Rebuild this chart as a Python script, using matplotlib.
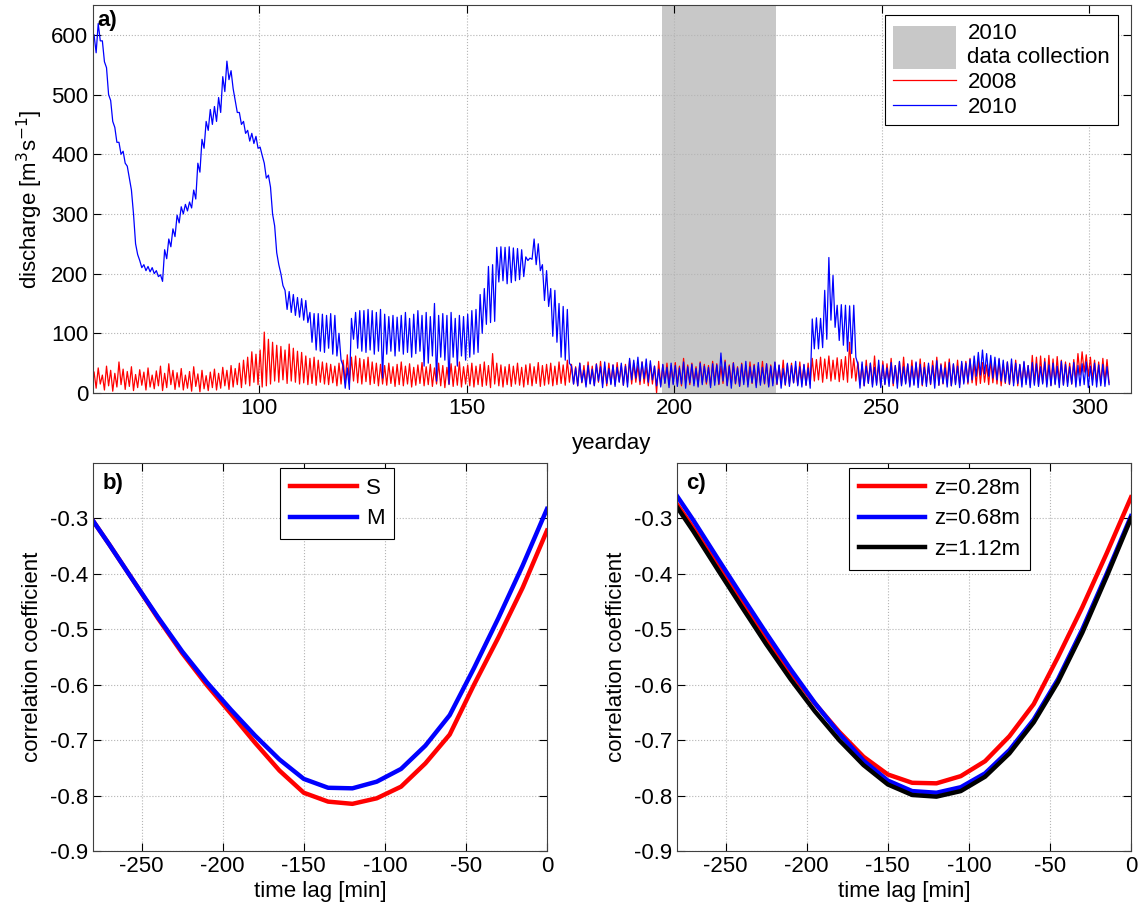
import numpy as np
import matplotlib.pyplot as plt
from matplotlib.patches import Rectangle
from matplotlib.legend_handler import HandlerPatch

plt.rcParams['font.family'] = ['Liberation Sans', 'DejaVu Sans']
plt.rcParams['axes.unicode_minus'] = False

# ---- panel a: daily high / low discharge (yearday 60..304)
days = np.arange(60, 305)

q2010_hi = [600, 619, 590, 545, 490, 445, 420, 405, 380, 340,
            250, 222, 215, 212, 210, 205, 198, 240, 258, 275,
            298, 312, 316, 320, 340, 385, 425, 455, 475, 480,
            495, 530, 556, 540, 490, 470, 455, 440, 435, 430,
            412, 385, 365, 300, 235, 200, 172, 170, 165, 160,
            158, 155, 135, 133, 133, 132, 130, 133, 130, 100,
            45, 42, 125, 135, 138, 138, 140, 138, 135, 140,
            132, 128, 130, 127, 130, 135, 125, 132, 138, 130,
            135, 128, 150, 130, 133, 130, 135, 125, 130, 128,
            132, 138, 140, 165, 175, 212, 215, 244, 245, 244,
            245, 243, 242, 240, 228, 226, 258, 250, 215, 205,
            175, 172, 150, 145, 140, 45, 42, 50, 38, 46,
            40, 48, 44, 52, 41, 47, 43, 50, 45, 58,
            55, 60, 52, 57, 54, 45, 40, 48, 43, 50,
            46, 42, 52, 44, 48, 41, 50, 45, 43, 49,
            47, 67, 52, 45, 50, 42, 48, 53, 44, 46,
            51, 43, 49, 45, 52, 47, 41, 50, 46, 53,
            44, 48, 42, 124, 126, 125, 172, 227, 197, 147,
            148, 147, 146, 147, 48, 52, 45, 50, 43, 55,
            47, 42, 51, 46, 53, 44, 49, 45, 52, 48,
            43, 50, 46, 54, 47, 42, 51, 49, 45, 53,
            50, 56, 62, 68, 72, 66, 63, 60, 58, 55,
            52, 57, 50, 48, 53, 46, 51, 49, 44, 52,
            47, 50, 45, 53, 48, 44, 51, 46, 49, 52,
            45, 50, 47, 48, 44]
q2010_lo = [570, 590, 555, 500, 455, 420, 400, 385, 360, 300,
            232, 210, 205, 203, 200, 195, 187, 225, 245, 262,
            285, 300, 305, 310, 325, 370, 410, 440, 450, 455,
            470, 505, 525, 510, 470, 450, 435, 422, 418, 410,
            398, 360, 345, 280, 215, 180, 140, 135, 130, 127,
            122, 118, 85, 72, 70, 68, 75, 65, 62, 55,
            8, 6, 90, 75, 70, 68, 72, 65, 70, 25,
            65, 70, 62, 70, 65, 68, 60, 66, 70, 45,
            50, 62, 20, 60, 55, 15, 60, 45, 62, 55,
            60, 65, 68, 100, 115, 118, 120, 186, 188, 183,
            185, 188, 190, 195, 222, 224, 215, 205, 155, 145,
            95, 85, 60, 55, 50, 15, 12, 18, 10, 15,
            12, 20, 9, 16, 14, 11, 18, 13, 10, 22,
            25, 20, 24, 18, 22, 12, 10, 16, 9, 14,
            11, 15, 8, 17, 12, 10, 14, 18, 9, 13,
            15, 20, 12, 8, 16, 11, 14, 10, 17, 9,
            13, 16, 10, 12, 15, 8, 14, 11, 17, 12,
            10, 13, 8, 74, 74, 76, 90, 122, 110, 88,
            80, 70, 66, 60, 8, 12, 16, 10, 13, 9,
            14, 11, 16, 8, 12, 15, 10, 13, 9, 14,
            11, 15, 8, 13, 16, 10, 12, 14, 9, 15,
            18, 22, 28, 30, 32, 28, 25, 22, 20, 18,
            15, 12, 16, 10, 14, 9, 13, 11, 15, 10,
            12, 14, 9, 13, 11, 15, 10, 12, 14, 9,
            13, 10, 12, 11, 14]

q2008_hi = [35, 42, 30, 45, 38, 33, 52, 40, 36, 44,
            31, 39, 35, 42, 30, 37, 45, 33, 49, 38,
            34, 41, 30, 36, 44, 32, 38, 29, 35, 40,
            33, 43, 38, 46, 41, 50, 55, 60, 69, 65,
            72, 102, 90, 85, 80, 78, 72, 82, 75, 70,
            68, 62, 58, 60, 55, 52, 50, 48, 45, 50,
            55, 64, 60, 62, 58, 56, 60, 52, 50, 48,
            46, 50, 44, 48, 52, 45, 49, 43, 47, 51,
            44, 48, 42, 50, 46, 43, 49, 45, 52, 44,
            47, 50, 45, 48, 52, 46, 66, 50, 47, 44,
            48, 45, 50, 43, 47, 49, 44, 51, 46, 48,
            50, 45, 52, 47, 55, 48, 44, 50, 46, 52,
            45, 49, 53, 44, 50, 47, 51, 46, 48, 55,
            50, 46, 52, 44, 49, 45, 53, 47, 50, 46,
            51, 45, 58, 47, 50, 44, 52, 48, 46, 53,
            49, 45, 55, 47, 51, 44, 50, 46, 52, 48,
            45, 53, 49, 47, 51, 46, 55, 48, 50, 44,
            52, 47, 50, 58, 56, 60, 57, 62, 55, 59,
            56, 61, 85, 58, 52, 48, 55, 50, 62, 47,
            53, 49, 58, 46, 52, 60, 48, 55, 50, 57,
            51, 46, 54, 60, 49, 52, 57, 48, 55, 50,
            53, 58, 49, 55, 51, 47, 54, 50, 56, 48,
            52, 49, 55, 47, 51, 46, 63, 60, 62, 58,
            63, 57, 61, 55, 52, 50, 56, 66, 69, 64,
            60, 55, 52, 58, 56]
q2008_lo = [8, 15, 5, 12, 3, 10, 14, 6, 11, 4,
            9, 13, 5, 10, 7, 12, 4, 9, 14, 6,
            10, 5, 8, 3, 11, 2, 7, 4, 9, 5,
            8, 12, 6, 10, 14, 9, 15, 12, 18, 14,
            10, 12, 15, 20, 18, 22, 16, 20, 18, 15,
            17, 14, 16, 13, 18, 15, 14, 17, 12, 15,
            18, 16, 20, 17, 15, 19, 14, 16, 12, 15,
            13, 16, 11, 14, 12, 15, 10, 13, 16, 12,
            14, 11, 15, 12, 9, 14, 11, 13, 10, 15,
            12, 10, 14, 11, 13, 9, 15, 12, 10, 14,
            11, 15, 13, 10, 14, 12, 16, 11, 13, 15,
            12, 14, 16, 13, 18, 15, 12, 17, 14, 16,
            13, 18, 15, 12, 16, 14, 19, 13, 17, 15,
            18, 14, 16, 12, 15, 0, 13, 17, 14, 16,
            15, 12, 18, 14, 16, 13, 17, 15, 12, 18,
            14, 16, 13, 17, 15, 12, 18, 14, 16, 13,
            17, 15, 12, 16, 14, 18, 13, 15, 17, 14,
            16, 13, 15, 20, 22, 18, 24, 20, 23, 19,
            22, 18, 25, 20, 15, 12, 17, 14, 16, 13,
            15, 18, 12, 16, 14, 17, 13, 15, 18, 12,
            16, 14, 18, 13, 15, 17, 12, 16, 14, 18,
            15, 17, 13, 16, 18, 14, 17, 15, 12, 16,
            14, 17, 12, 15, 18, 13, 16, 14, 17, 15,
            13, 16, 18, 14, 17, 15, 20, 30, 35, 28,
            22, 18, 16, 20, 17]

collection_start, collection_end = 197, 224.5

# ---- panels b and c: lagged correlation
lag = np.arange(-285, 1, 15)
corr_S = [-0.283, -0.347, -0.413, -0.480, -0.543, -0.600, -0.652, -0.705, -0.755, -0.795,
          -0.811, -0.815, -0.805, -0.784, -0.742, -0.690, -0.600, -0.515, -0.425, -0.322]
corr_M = [-0.283, -0.347, -0.413, -0.478, -0.540, -0.595, -0.645, -0.692, -0.735, -0.770,
          -0.786, -0.787, -0.775, -0.752, -0.710, -0.655, -0.570, -0.480, -0.385, -0.283]
corr_z028 = [-0.253, -0.317, -0.385, -0.452, -0.517, -0.578, -0.634, -0.685, -0.730, -0.762,
             -0.777, -0.778, -0.765, -0.738, -0.693, -0.635, -0.550, -0.460, -0.363, -0.262]
corr_z068 = [-0.238, -0.303, -0.372, -0.440, -0.507, -0.572, -0.633, -0.688, -0.737, -0.773,
             -0.792, -0.795, -0.785, -0.760, -0.718, -0.663, -0.590, -0.500, -0.400, -0.296]
corr_z112 = [-0.258, -0.323, -0.392, -0.460, -0.527, -0.590, -0.648, -0.700, -0.745, -0.780,
             -0.799, -0.802, -0.792, -0.766, -0.724, -0.668, -0.595, -0.506, -0.405, -0.300]

FS = 16


def zigzag(d, hi, lo):
    x = np.column_stack([d + 0.25, d + 0.75]).ravel()
    y = np.column_stack([hi, lo]).ravel()
    return x, y


def style(ax):
    ax.grid(True, ls=':', color='#b4b4b4', lw=0.8)
    ax.tick_params(direction='in', top=True, right=True, labelsize=FS, length=6)
    for s in ax.spines.values():
        s.set_color('#404040')


class BigPatch(HandlerPatch):
    def create_artists(self, legend, orig_handle, xdescent, ydescent, width, height, fontsize, trans):
        p = Rectangle((-xdescent, -ydescent - 0.68 * fontsize), width, 1.9 * fontsize,
                      facecolor=orig_handle.get_facecolor(), edgecolor='none', transform=trans)
        return [p]


fig = plt.figure(figsize=(11.4, 9.15), dpi=100)
ax_a = fig.add_axes([0.0816, 0.5705, 0.9104, 0.424])
ax_b = fig.add_axes([0.0816, 0.070, 0.3982, 0.424])
ax_c = fig.add_axes([0.5939, 0.070, 0.3982, 0.424])

span = ax_a.axvspan(collection_start, collection_end, color='#c8c8c8', lw=0, zorder=0.5,
                    label='2010\ndata collection')
x8, y8 = zigzag(days, q2008_hi, q2008_lo)
x10, y10 = zigzag(days, q2010_hi, q2010_lo)
ax_a.plot(x8, y8, color='red', lw=0.9, label='2008')
ax_a.plot(x10, y10, color='blue', lw=0.9, label='2010')
ax_a.set_xlim(60, 310)
ax_a.set_ylim(0, 650)
ax_a.set_xticks([100, 150, 200, 250, 300])
ax_a.set_yticks(range(0, 700, 100))
ax_a.set_xlabel('yearday', fontsize=FS, labelpad=10)
ax_a.set_ylabel('discharge [m$^3$s$^{-1}$]', fontsize=FS, labelpad=4)
style(ax_a)
ax_a.text(0.004, 0.988, 'a)', transform=ax_a.transAxes, fontsize=FS, fontweight='bold', va='top')
leg = ax_a.legend(loc='upper right', bbox_to_anchor=(0.9875, 0.974), fontsize=FS, fancybox=False,
                  edgecolor='black', framealpha=1, handlelength=2.85, labelspacing=0.17,
                  handler_map={span: BigPatch()}, borderpad=0.35, handletextpad=0.5,
                  borderaxespad=0)
leg.get_frame().set_linewidth(0.8)

ax_b.plot(lag, corr_S, color='red', lw=3.2, label='S')
ax_b.plot(lag, corr_M, color='blue', lw=3.2, label='M')
ax_c.plot(lag, corr_z028, color='red', lw=3.2, label='z=0.28m')
ax_c.plot(lag, corr_z068, color='blue', lw=3.2, label='z=0.68m')
ax_c.plot(lag, corr_z112, color='black', lw=3.2, label='z=1.12m')

for ax, tag, lx in [(ax_b, 'b)', 0.538), (ax_c, 'c)', 0.578)]:
    ax.set_xlim(-280, 0)
    ax.set_ylim(-0.9, -0.2)
    ax.set_xticks([-250, -200, -150, -100, -50, 0])
    ax.set_yticks([-0.9, -0.8, -0.7, -0.6, -0.5, -0.4, -0.3])
    ax.set_xlabel('time lag [min]', fontsize=FS, labelpad=3)
    ax.set_ylabel('correlation coefficient', fontsize=FS, labelpad=5)
    style(ax)
    ax.text(0.02, 0.975, tag, transform=ax.transAxes, fontsize=FS, fontweight='bold', va='top')
    lg = ax.legend(loc='upper center', bbox_to_anchor=(lx, 0.987), fontsize=FS, fancybox=False,
                   edgecolor='black', framealpha=1, handlelength=3.0, labelspacing=0.42,
                   borderpad=0.45, handletextpad=0.4, borderaxespad=0)
    lg.get_frame().set_linewidth(0.8)

fig.savefig('out.png', dpi=100)
